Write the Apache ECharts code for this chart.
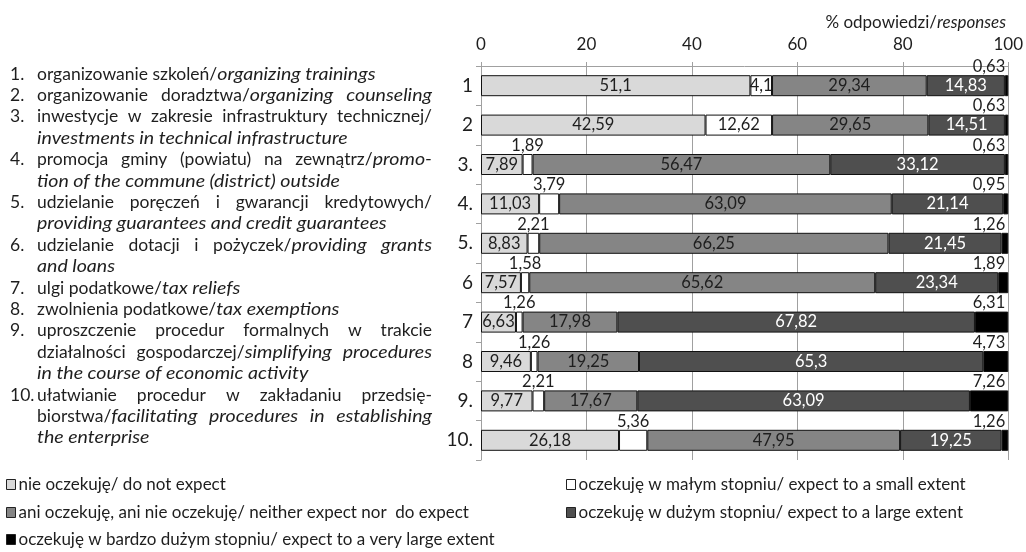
<!DOCTYPE html>
<html><head><meta charset="utf-8">
<script src="https://cdn.jsdelivr.net/npm/echarts@6/dist/echarts.min.js"></script>
<style>html,body{margin:0;padding:0;background:#fff}#c{width:1026px;height:552px}</style>
</head><body><div id="c"></div>
<script>
// ---------- DATA ----------
const categories = ['1', '2', '3.', '4.', '5.', '6', '7', '8', '9.', '10.'];
const seriesNames = [
  'nie oczekuję/ do not expect',
  'oczekuję w małym stopniu/ expect to a small extent',
  'ani oczekuję, ani nie oczekuję/ neither expect nor  do expect',
  'oczekuję w dużym stopniu/ expect to a large extent',
  'oczekuję w bardzo dużym stopniu/ expect to a very large extent'
];
const notExpect   = [51.1, 42.59, 7.89, 11.03, 8.83, 7.57, 6.63, 9.46, 9.77, 26.18];
const smallExtent = [4.1, 12.62, 1.89, 3.79, 2.21, 1.58, 1.26, 1.26, 2.21, 5.36];
const neither     = [29.34, 29.65, 56.47, 63.09, 66.25, 65.62, 17.98, 19.25, 17.67, 47.95];
const largeExtent = [14.83, 14.51, 33.12, 21.14, 21.45, 23.34, 67.82, 65.3, 63.09, 19.25];
const veryLarge   = [0.63, 0.63, 0.63, 0.95, 1.26, 1.89, 6.31, 4.73, 7.26, 1.26];
// where the "small extent" label sits (inside the bar or above it)
const smallLabelInside = [true, true, false, false, false, false, false, false, false, false];
const axisTitlePl = '% odpowiedzi/';
const axisTitleEn = 'responses';
const xMin = 0, xMax = 100, xInterval = 20;

// description lines: [number, text with {italic} parts, justified]
const descLines = [
  ['1.', 'organizowanie szkoleń/{organizing trainings}', false],
  ['2.', 'organizowanie doradztwa/{organizing counseling}', true],
  ['3.', 'inwestycje w zakresie infrastruktury technicznej/', true],
  ['', '{investments in technical infrastructure}', false],
  ['4.', 'promocja gminy (powiatu) na zewnątrz/{promo-}', true],
  ['', '{tion of the commune (district) outside}', false],
  ['5.', 'udzielanie poręczeń i gwarancji kredytowych/', true],
  ['', '{providing guarantees and credit guarantees}', false],
  ['6.', 'udzielanie dotacji i pożyczek/{providing grants}', true],
  ['', '{and loans}', false],
  ['7.', 'ulgi podatkowe/{tax reliefs}', false],
  ['8.', 'zwolnienia podatkowe/{tax exemptions}', false],
  ['9.', 'uproszczenie procedur formalnych w trakcie', true],
  ['', 'działalności gospodarczej/{simplifying procedures}', true],
  ['', '{in the course of economic activity}', false],
  ['10.', 'ułatwianie procedur w zakładaniu przedsię-', true],
  ['', 'biorstwa/{facilitating procedures in establishing}', true],
  ['', '{the enterprise}', false]
];

// ---------- STYLE ----------
const FONT = 'Lato';
const TXT = '#1e1e1e';
const colors = ['#d9d9d9', '#ffffff', '#858585', '#4f4f4f', '#000000'];
const labelColors = [TXT, TXT, TXT, '#ffffff', TXT];
const fmt = v => String(v).replace('.', ',');

// ---------- left description text (justified) ----------
const cv = document.createElement('canvas').getContext('2d');
const DSIZE = 17.5;
const ITALIC_STRETCH = 1.12;
function fnt(it) { return (it ? 'italic ' : '') + DSIZE + 'px ' + FONT; }
function meas(t, it) { cv.font = fnt(it); return cv.measureText(t).width * (it ? ITALIC_STRETCH : 1); }
function parse(s) {
  const out = []; let it = false, buf = '';
  for (const ch of s) {
    if (ch === '{' || ch === '}') { if (buf) out.push({t: buf, it}); buf = ''; it = ch === '{'; }
    else buf += ch;
  }
  if (buf) out.push({t: buf, it});
  return out;
}
function toWords(pieces) {
  const words = [[]];
  pieces.forEach(p => {
    p.t.split(' ').forEach((part, i) => {
      if (i > 0) words.push([]);
      if (part) words[words.length - 1].push({t: part, it: p.it});
    });
  });
  return words.filter(w => w.length);
}
const textLeft = 37, textRight = 432, numLeft = 10, lineTop = 74, lineStep = 21.4;
const W = textRight - textLeft;
const graphics = [];
descLines.forEach((ln, i) => {
  const y = lineTop + i * lineStep;
  if (ln[0]) graphics.push({type: 'text', x: numLeft, y,
    style: {text: ln[0], font: fnt(false), fill: TXT, verticalAlign: 'middle'}});
  const words = toWords(parse(ln[1]));
  const widths = words.map(w => w.reduce((s, p) => s + meas(p.t, p.it), 0));
  const sum = widths.reduce((a, b) => a + b, 0);
  const sp = meas(' ', false);
  let gap = sp, scale = 1;
  const n = words.length;
  if (ln[2] && n > 1) {
    gap = (W - sum) / (n - 1);
    const minGap = sp * 0.3;
    if (gap < minGap) { gap = minGap; scale = W / (sum + minGap * (n - 1)); }
  } else {
    const nat = sum + sp * (n - 1);
    if (nat > W) scale = W / nat;
  }
  const children = [];
  let x = 0;
  words.forEach(w => {
    w.forEach(p => {
      children.push({type: 'text', x, y: 0, scaleX: p.it ? ITALIC_STRETCH : 1,
        style: {text: p.t, font: fnt(p.it), fill: TXT, verticalAlign: 'middle'}});
      x += meas(p.t, p.it);
    });
    x += gap;
  });
  graphics.push({type: 'group', x: textLeft, y, scaleX: scale, children});
});

// ---------- series ----------
const values = [notExpect, smallExtent, neither, largeExtent, veryLarge];
const series = values.map((arr, si) => ({
  name: seriesNames[si],
  type: 'bar',
  stack: 'total',
  barWidth: 21,
  itemStyle: {color: colors[si], borderColor: '#111', borderWidth: 1},
  label: {
    show: true, fontFamily: FONT, fontSize: 16.5, color: labelColors[si],
    formatter: p => fmt(p.value)
  },
  data: arr.map((v, ci) => {
    if (si === 1 && !smallLabelInside[ci]) {
      return {value: v, label: {position: 'top', distance: 0}};
    }
    if (si === 4) {
      return {value: v, label: {position: ['100%', 0], align: 'right', verticalAlign: 'bottom', offset: [-3, 0]}};
    }
    return {value: v, label: {position: 'inside'}};
  })
}));

const legendPos = [[6, 476], [566, 476], [6, 504], [566, 504], [6, 531]];
const legends = seriesNames.map((nm, i) => ({
  data: [nm], left: legendPos[i][0], top: legendPos[i][1], padding: 0,
  itemWidth: 9, itemHeight: 10, selectedMode: false,
  icon: 'rect',
  itemStyle: {borderColor: '#222', borderWidth: 1},
  textStyle: {fontFamily: FONT, fontSize: 17, color: TXT, padding: [0, 0, 0, -2]}
}));

const chart = echarts.init(document.getElementById('c'));
chart.setOption({
  animation: false,
  backgroundColor: '#fff',
  textStyle: {fontFamily: FONT},
  title: {
    text: '{a|' + axisTitlePl + '}{b|' + axisTitleEn + '}',
    right: 15, top: 9,
    textStyle: {fontWeight: 'normal', rich: {
      a: {fontFamily: FONT, fontSize: 17, color: TXT, fontWeight: 'normal'},
      b: {fontFamily: FONT, fontSize: 17, color: TXT, fontWeight: 'normal', fontStyle: 'italic'}
    }}
  },
  legend: legends,
  grid: {left: 481, right: 17, top: 66, bottom: 92, containLabel: false},
  xAxis: {
    type: 'value', position: 'top', min: xMin, max: xMax, interval: xInterval,
    axisLine: {show: true, lineStyle: {color: '#a0a0a0', width: 1}},
    axisTick: {show: true, length: 4, lineStyle: {color: '#a0a0a0'}},
    splitLine: {show: true, lineStyle: {color: '#a0a0a0', width: 1}},
    axisLabel: {fontFamily: FONT, fontSize: 17, color: TXT, margin: 13}
  },
  yAxis: {
    type: 'category', inverse: true, data: categories,
    axisLine: {show: true, lineStyle: {color: '#a0a0a0', width: 1}},
    axisTick: {show: true, length: 5, lineStyle: {color: '#a0a0a0'}},
    axisLabel: {fontFamily: FONT, fontSize: 19, color: TXT, margin: 8}
  },
  series,
  graphic: graphics
});
</script>
</body></html>
